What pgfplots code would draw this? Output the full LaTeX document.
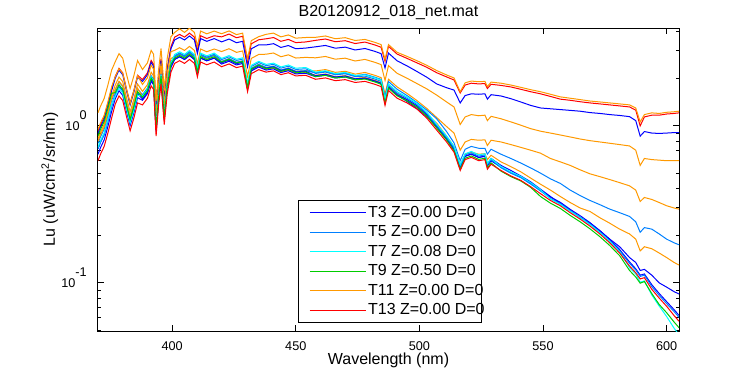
\documentclass[border=0pt]{standalone}
\usepackage{fontspec}
\setmainfont{Liberation Sans}
\usepackage{pgfplots}
\pgfplotsset{compat=1.18}
\usepackage{pgfplotstable}
\definecolor{cblue}{RGB}{0,0,255}
\definecolor{cdodger}{RGB}{0,128,255}
\definecolor{ccyan}{RGB}{0,255,255}
\definecolor{cgreen}{RGB}{0,204,0}
\definecolor{corange}{RGB}{255,153,0}
\definecolor{cred}{RGB}{255,0,0}
\pgfplotstableread{
l r g c b d A B C D E F G H
370 0.600 0.864 0.732 0.660 0.714 1.212 0.924 0.894 0.948 0.828 0.774 0.798 0.714
371 0.660 0.950 0.805 0.726 0.785 1.333 1.016 0.983 1.043 0.911 0.851 0.878 0.785
372.5 0.740 1.066 0.903 0.814 0.881 1.495 1.140 1.103 1.169 1.021 0.955 0.984 0.881
374 0.900 1.296 1.098 0.990 1.071 1.818 1.386 1.341 1.422 1.242 1.161 1.197 1.071
375.5 1.120 1.613 1.366 1.232 1.333 2.262 1.725 1.669 1.770 1.546 1.445 1.490 1.333
377 1.380 1.628 1.546 1.490 1.601 2.567 2.070 2.015 2.056 1.822 1.697 1.711 1.587
378.5 1.550 1.829 1.736 1.674 1.798 2.883 2.325 2.263 2.310 2.046 1.907 1.922 1.783
380 1.450 1.711 1.624 1.566 1.682 2.697 2.175 2.117 2.161 1.914 1.784 1.798 1.668
381.5 1.150 1.357 1.288 1.242 1.334 2.139 1.725 1.679 1.714 1.518 1.415 1.426 1.323
383 0.930 1.097 1.042 1.004 1.079 1.730 1.395 1.358 1.386 1.228 1.144 1.153 1.070
384.5 1.120 1.322 1.254 1.210 1.299 2.083 1.680 1.635 1.669 1.478 1.378 1.389 1.288
386 1.400 1.652 1.568 1.512 1.624 2.604 2.100 2.044 2.086 1.848 1.722 1.736 1.610
388 1.360 1.523 1.550 1.455 1.537 2.285 1.972 1.918 1.836 1.659 1.578 1.537 1.482
390 1.500 1.680 1.710 1.605 1.695 2.520 2.175 2.115 2.025 1.830 1.740 1.695 1.635
391.5 1.800 2.016 2.052 1.926 2.034 3.024 2.610 2.538 2.430 2.196 2.088 2.034 1.962
392.5 1.700 1.904 1.938 1.819 1.921 2.856 2.465 2.397 2.295 2.074 1.972 1.921 1.853
393.5 0.860 0.963 0.980 0.920 0.972 1.445 1.247 1.213 1.161 1.049 0.998 0.972 0.937
394.5 1.350 1.512 1.539 1.445 1.526 2.268 1.958 1.904 1.823 1.647 1.566 1.526 1.472
395.5 1.850 2.072 2.109 1.980 2.091 3.108 2.683 2.609 2.498 2.257 2.146 2.091 2.017
396.8 1.020 1.142 1.163 1.091 1.153 1.714 1.479 1.438 1.377 1.244 1.183 1.153 1.112
398 1.600 1.792 1.824 1.712 1.808 2.688 2.320 2.256 2.160 1.952 1.856 1.808 1.744
399.5 2.200 2.464 2.508 2.354 2.486 3.696 3.190 3.102 2.970 2.684 2.552 2.486 2.398
401 2.500 2.700 2.850 2.650 2.800 3.936 3.675 3.525 3.025 2.775 2.750 2.700 2.650
403 2.600 2.808 2.964 2.756 2.912 4.150 3.822 3.666 3.146 2.886 2.860 2.808 2.756
405 2.500 2.700 2.850 2.650 2.800 3.936 3.675 3.525 3.025 2.775 2.750 2.700 2.650
407 2.650 2.862 3.021 2.809 2.968 4.190 3.896 3.737 3.207 2.942 2.915 2.862 2.809
409 2.500 2.700 2.850 2.650 2.800 3.936 3.675 3.525 3.025 2.775 2.750 2.700 2.650
410.2 2.050 2.214 2.337 2.173 2.296 3.228 3.014 2.891 2.481 2.276 2.255 2.214 2.173
411.5 2.550 2.754 2.907 2.703 2.856 4.015 3.749 3.596 3.086 2.831 2.805 2.754 2.703
414 2.450 2.646 2.793 2.597 2.744 3.857 3.602 3.455 2.965 2.720 2.695 2.646 2.597
417 2.550 2.754 2.907 2.703 2.856 4.015 3.749 3.596 3.086 2.831 2.805 2.754 2.703
420 2.380 2.547 2.689 2.523 2.642 3.861 3.689 3.427 2.975 2.570 2.570 2.523 2.475
423 2.480 2.654 2.802 2.629 2.753 4.023 3.844 3.571 3.100 2.678 2.678 2.629 2.579
426 2.350 2.515 2.656 2.491 2.609 3.813 3.643 3.384 2.938 2.538 2.538 2.491 2.444
428.5 2.400 2.568 2.712 2.544 2.664 3.894 3.720 3.456 3.000 2.592 2.592 2.544 2.496
430.5 1.650 1.766 1.865 1.749 1.832 2.677 2.558 2.376 2.063 1.782 1.782 1.749 1.716
432 2.150 2.301 2.430 2.279 2.387 3.489 3.333 3.096 2.688 2.322 2.322 2.279 2.236
435 2.280 2.440 2.576 2.417 2.531 3.699 3.534 3.283 2.850 2.462 2.462 2.417 2.371
438 2.200 2.310 2.464 2.332 2.420 3.828 3.586 3.278 2.860 2.354 2.354 2.288 2.266
441 2.240 2.352 2.509 2.374 2.464 3.898 3.651 3.338 2.912 2.397 2.397 2.330 2.307
444 2.120 2.226 2.374 2.247 2.332 3.689 3.456 3.159 2.756 2.268 2.268 2.205 2.184
447 2.180 2.289 2.442 2.311 2.398 3.793 3.553 3.248 2.834 2.333 2.333 2.267 2.245
450 2.080 2.184 2.330 2.205 2.288 3.619 3.390 3.099 2.704 2.226 2.226 2.163 2.142
454 2.100 2.205 2.352 2.226 2.310 3.654 3.423 3.129 2.730 2.247 2.247 2.184 2.163
458 1.980 2.059 2.198 2.089 2.158 3.663 3.505 3.188 2.713 2.237 2.178 2.099 2.059
462 2.020 2.101 2.242 2.131 2.202 3.737 3.575 3.252 2.767 2.283 2.222 2.141 2.101
466 1.940 2.018 2.153 2.047 2.115 3.589 3.434 3.123 2.658 2.192 2.134 2.056 2.018
470 1.970 2.049 2.187 2.078 2.147 3.645 3.487 3.172 2.699 2.226 2.167 2.088 2.049
474 1.890 1.966 2.098 1.994 2.060 3.497 3.345 3.043 2.589 2.136 2.079 2.003 1.966
478 1.920 1.987 2.112 2.016 2.074 3.552 3.418 3.110 2.650 2.189 2.131 2.035 2.006
482 1.840 1.904 2.024 1.932 1.987 3.404 3.275 2.981 2.539 2.098 2.042 1.950 1.923
484.5 1.780 1.842 1.958 1.869 1.922 3.293 3.168 2.884 2.456 2.029 1.976 1.887 1.860
486.1 1.350 1.397 1.485 1.418 1.458 2.646 2.579 2.336 1.944 1.593 1.539 1.445 1.418
487.5 1.680 1.739 1.848 1.764 1.814 3.293 3.209 2.906 2.419 1.982 1.915 1.798 1.764
491 1.500 1.553 1.650 1.575 1.620 2.940 2.865 2.595 2.160 1.770 1.710 1.605 1.575
495 1.400 1.442 1.526 1.470 1.498 2.77 2.69 2.41 2.01 1.61 1.56 1.46 1.43
499 1.280 1.318 1.395 1.344 1.370 2.60 2.52 2.22 1.86 1.45 1.41 1.32 1.29
503 1.120 1.154 1.221 1.176 1.198 2.43 2.36 2.04 1.72 1.29 1.26 1.18 1.14
507 0.940 0.968 1.025 0.987 1.006 2.25 2.18 1.85 1.57 1.13 1.11 1.04 1.00
511 0.790 0.814 0.861 0.830 0.845 2.11 2.05 1.75 1.42 0.99 0.92 0.86 0.82
514 0.680 0.694 0.741 0.714 0.728 2.02 1.96 1.69 1.32 0.90 0.78 0.74 0.71
516.5 0.520 0.530 0.567 0.546 0.556 1.65 1.62 1.40 1.02 0.70 0.60 0.56 0.55
518.5 0.610 0.622 0.665 0.641 0.653 1.88 1.82 1.56 1.14 0.79 0.71 0.66 0.64
521 0.630 0.643 0.687 0.662 0.674 1.93 1.87 1.60 1.18 0.82 0.74 0.68 0.66
524 0.600 0.612 0.654 0.630 0.642 1.91 1.85 1.59 1.16 0.81 0.72 0.66 0.63
526.5 0.610 0.622 0.665 0.641 0.653 1.92 1.86 1.60 1.17 0.815 0.72 0.665 0.64
527.5 0.530 0.541 0.578 0.557 0.567 1.78 1.73 1.48 1.08 0.75 0.66 0.61 0.57
529 0.570 0.581 0.621 0.599 0.610 1.90 1.84 1.58 1.15 0.81 0.71 0.65 0.62
533 0.520 0.515 0.551 0.546 0.541 1.87 1.81 1.55 1.11 0.79 0.66 0.59 0.56
537 0.480 0.475 0.509 0.504 0.499 1.82 1.77 1.49 1.06 0.76 0.62 0.55 0.52
541 0.450 0.446 0.477 0.473 0.468 1.76 1.71 1.42 1.01 0.73 0.58 0.51 0.48
545 0.410 0.406 0.435 0.431 0.426 1.70 1.65 1.35 0.96 0.70 0.54 0.465 0.44
549 0.370 0.355 0.392 0.389 0.385 1.65 1.60 1.30 0.925 0.67 0.50 0.425 0.395
553 0.335 0.322 0.342 0.352 0.345 1.59 1.54 1.285 0.90 0.62 0.46 0.39 0.355
557 0.310 0.298 0.316 0.326 0.319 1.53 1.48 1.27 0.875 0.59 0.43 0.355 0.32
561 0.280 0.269 0.286 0.294 0.288 1.50 1.455 1.255 0.85 0.56 0.39 0.325 0.29
565 0.255 0.245 0.260 0.268 0.263 1.47 1.425 1.24 0.825 0.525 0.36 0.30 0.26
569 0.230 0.221 0.235 0.242 0.237 1.44 1.40 1.215 0.805 0.495 0.335 0.285 0.24
573 0.205 0.197 0.209 0.215 0.211 1.42 1.38 1.20 0.79 0.475 0.315 0.26 0.215
577 0.180 0.173 0.184 0.189 0.185 1.40 1.36 1.18 0.775 0.455 0.295 0.24 0.19
581 0.155 0.149 0.158 0.163 0.160 1.38 1.34 1.165 0.76 0.435 0.28 0.22 0.17
585 0.128 0.120 0.125 0.136 0.133 1.36 1.32 1.145 0.745 0.415 0.265 0.205 0.145
587.5 0.116 0.109 0.114 0.123 0.121 1.30 1.26 1.08 0.70 0.39 0.245 0.19 0.135
589.3 0.106 0.0996 0.101 0.112 0.110 1.06 1.00 0.86 0.56 0.33 0.21 0.16 0.12
591 0.108 0.102 0.103 0.114 0.112 1.18 1.14 0.92 0.62 0.35 0.225 0.17 0.122
594 0.091 0.0855 0.0837 0.0974 0.0946 1.21 1.17 0.90 0.61 0.34 0.22 0.165 0.112
597 0.080 0.0728 0.0712 0.0856 0.0832 1.20 1.17 0.895 0.605 0.325 0.205 0.155 0.10
600 0.071 0.0646 0.0611 0.0760 0.0738 1.22 1.19 0.90 0.60 0.31 0.19 0.145 0.094
603 0.062 0.0564 0.0515 0.0676 0.0657 1.23 1.20 0.906 0.60 0.30 0.18 0.135 0.088
605 0.057 0.0519 0.0467 0.0621 0.0604 1.24 1.21 0.905 0.60 0.295 0.175 0.13 0.085
}\spec
\newcommand{\lab}[1]{\makebox[77pt][l]{#1}}
\begin{document}
\begin{tikzpicture}
\begin{axis}[
  scale only axis, width=435.75pt, height=227.25pt,
  xmin=370, xmax=605, ymode=log, ymin=0.0494, ymax=4.2,
  xtick={400,450,500,550,600},
  xticklabels={400,450,500,550,600},
  ytick={0.1,1},
  yticklabels={10\smash{\raisebox{8pt}{-1}},10\smash{\raisebox{8pt}{0}}},
  minor ytick={0.05,0.06,0.07,0.08,0.09,0.2,0.3,0.4,0.5,0.6,0.7,0.8,0.9,2,3,4},
  tick align=inside,
  major tick length=4.2pt, minor tick length=2.6pt,
  every tick/.style={black, line width=0.75pt},
  axis line style={line width=0.75pt},
  tick label style={font=\fontsize{9.5}{11}\selectfont},
  xticklabel style={yshift=-4.3pt},
  yticklabel style={xshift=-5pt},
  xlabel={Wavelength (nm)},
  ylabel={Lu (uW/cm\textsuperscript{2}/sr/nm)},
  title={B20120912\_018\_net.mat},
  every axis title shift=0pt,
  label style={font=\fontsize{12}{14}\selectfont},
  title style={font=\fontsize{12}{14}\selectfont, at={(axis description cs:0.5,1.05)}, anchor=center},
  xlabel style={at={(axis description cs:0.5,-0.097)}, anchor=center},
  ylabel style={at={(axis description cs:-0.083,0.5)}, anchor=center},
  legend style={at={(axis description cs:0.3442,0.0264)}, anchor=south west,
    draw=black, line width=0.75pt, fill=white,
    font=\fontsize{12}{14}\selectfont,
    inner xsep=8pt, inner ysep=3.5pt, row sep=3.1pt, column sep=1.5pt,
    nodes={inner sep=0pt, text height=9pt, text depth=2.5pt}},
  legend cell align=left,
  legend image code/.code={\draw[#1, line width=0.75pt] (0pt,0pt) -- (42pt,0pt);},
  every axis plot/.append style={line width=0.75pt},
]
\addplot[cred, forget plot] table[x=l, y=B] {\spec};
\addplot[cblue, forget plot] table[x=l, y=C] {\spec};
\addplot[corange, forget plot] table[x=l, y=D] {\spec};
\addplot[corange, forget plot] table[x=l, y=E] {\spec};
\addplot[cdodger, forget plot] table[x=l, y=F] {\spec};
\addplot[corange, forget plot] table[x=l, y=G] {\spec};
\addplot[cblue, forget plot] table[x=l, y=H] {\spec};
\addplot[cblue] table[x=l, y=b] {\spec};
\addlegendentry{\lab{T3 Z=0.00 D=0}}
\addplot[cdodger] table[x=l, y=d] {\spec};
\addlegendentry{\lab{T5 Z=0.00 D=0}}
\addplot[ccyan] table[x=l, y=c] {\spec};
\addlegendentry{\lab{T7 Z=0.08 D=0}}
\addplot[cgreen] table[x=l, y=g] {\spec};
\addlegendentry{\lab{T9 Z=0.50 D=0}}
\addplot[corange] table[x=l, y=A] {\spec};
\addlegendentry{\lab{T11 Z=0.00 D=0}}
\addplot[cred] table[x=l, y=r] {\spec};
\addlegendentry{\lab{T13 Z=0.00 D=0}}
\end{axis}
\pgfresetboundingbox
\path (-73.5pt,-33pt) rectangle (489pt,248.25pt);
\end{tikzpicture}
\end{document}
